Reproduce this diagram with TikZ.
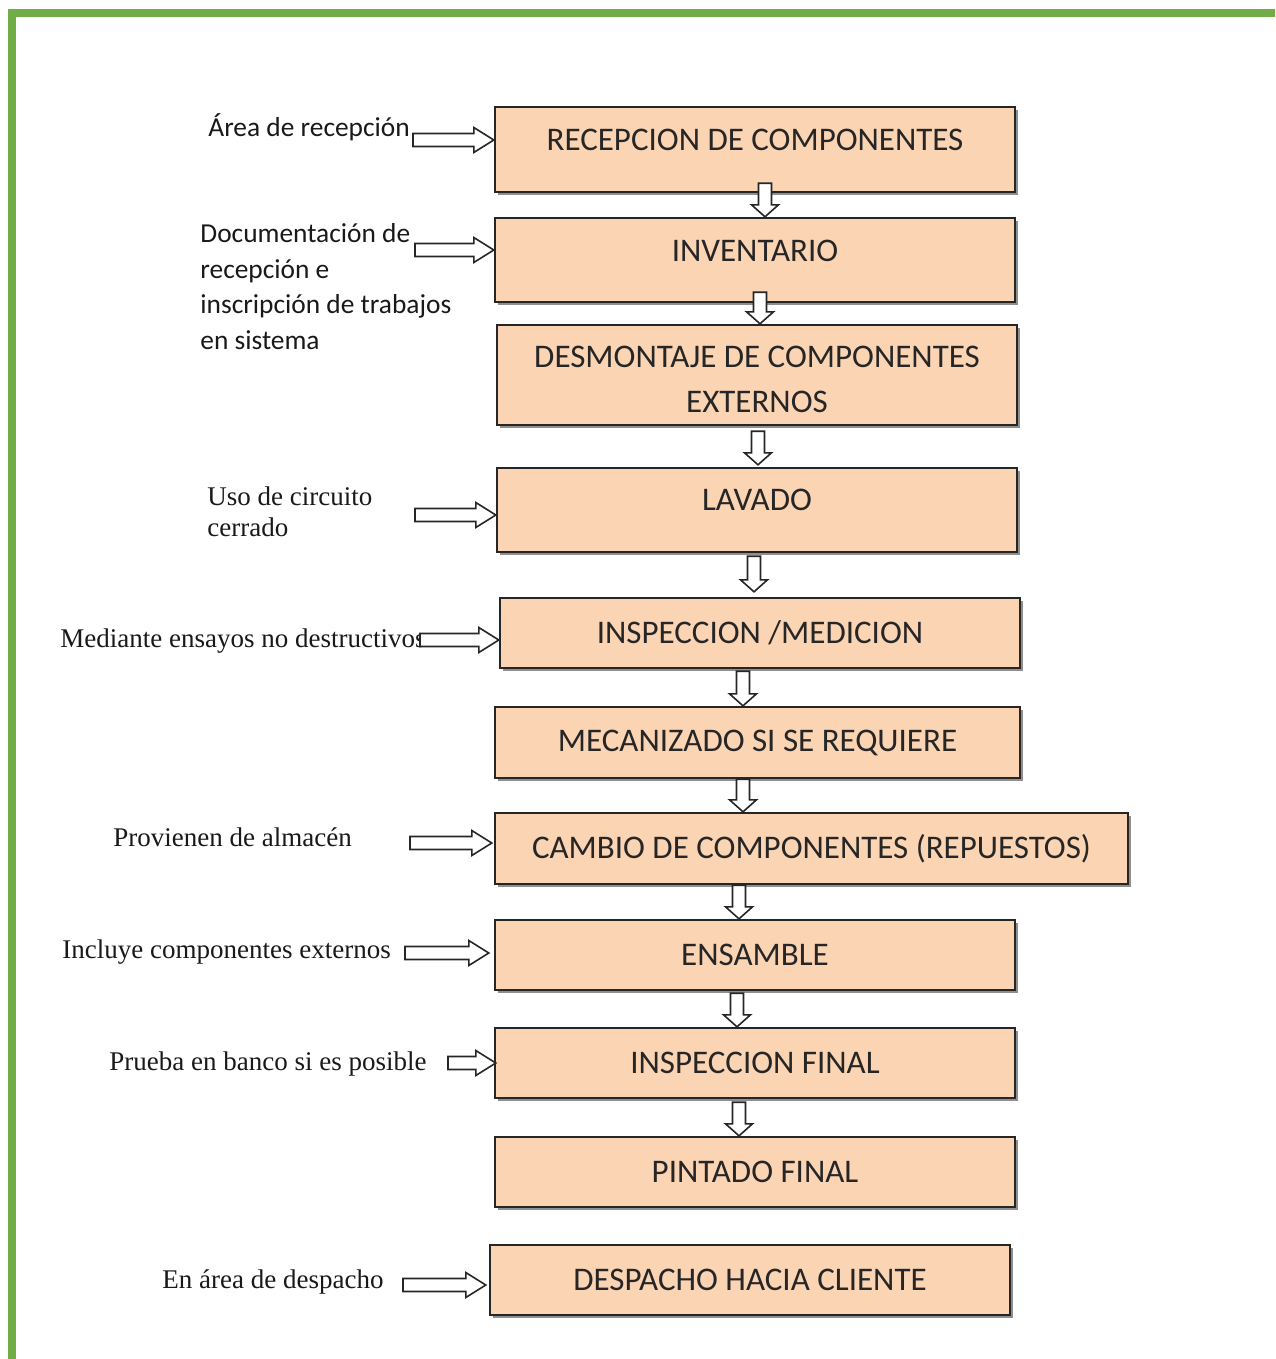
\documentclass[tikz,border=0pt]{standalone}
\usepackage{fontspec}
\setmainfont{Liberation Serif}
\newfontfamily\calfont{Carlito}
\usetikzlibrary{calc,shadows}
\definecolor{peach}{HTML}{FBD4B4}
\definecolor{framegreen}{RGB}{112,173,71}
\begin{document}
\begin{tikzpicture}[x=0.5pt,y=-0.5pt,
  box/.style={draw=black!85, line width=1.2pt, fill=peach, inner sep=0pt,
    font=\calfont\fontsize{16.5}{22.5}\selectfont, text=black!85, align=center,
    drop shadow={shadow xshift=1.3pt, shadow yshift=-1.3pt, fill=black!55, opacity=0.8}},
  slab/.style={anchor=west, inner sep=0pt, align=left, text=black!90,
    font=\fontsize{13.5}{15.5}\selectfont},
  clab/.style={anchor=west, inner sep=0pt, align=left, text=black!90,
    font=\calfont\fontsize{13.7}{17.8}\selectfont},
  dar/.style={draw=black!85, fill=white, line width=0.8pt, line join=miter,
    to path={let \p1=(\tikztostart), \p2=(\tikztotarget) in
      (\x1-3.25pt,\y1) -- (\x1-3.25pt,\y2+6pt) -- (\x1-6.75pt,\y2+6pt) -- (\x1,\y2)
      -- (\x1+6.75pt,\y2+6pt) -- (\x1+3.25pt,\y2+6pt) -- (\x1+3.25pt,\y1) -- cycle}},
  rar/.style={draw=black!85, fill=white, line width=0.8pt, line join=miter,
    to path={let \p1=(\tikztostart), \p2=(\tikztotarget) in
      (\x1,\y1+3.25pt) -- (\x2-10pt,\y1+3.25pt) -- (\x2-10pt,\y1+6.25pt) -- (\x2,\y1)
      -- (\x2-10pt,\y1-6.25pt) -- (\x2-10pt,\y1-3.25pt) -- (\x1,\y1-3.25pt) -- cycle}}]
\useasboundingbox (0,0) rectangle (1275,1359);
\begin{scope}
  \clip (0,0) rectangle (1275,1359);
  \draw[framegreen, line width=4pt] (12,13) rectangle (1300,1363);
\end{scope}

% boxes
\node[box, minimum width=260pt, minimum height=42.5pt, text depth=9.5pt] (b1) at (755,149.5) {RECEPCION DE COMPONENTES};
\node[box, minimum width=260pt, minimum height=42pt, text depth=9pt] (b2) at (755,260) {INVENTARIO};
\node[box, minimum width=260pt, minimum height=50pt] (b3) at (757,375) {\rule{0pt}{15.6pt}DESMONTAJE DE COMPONENTES\\EXTERNOS};
\node[box, minimum width=260pt, minimum height=42pt, text depth=10pt] (b4) at (757,510) {LAVADO};
\node[box, minimum width=260pt, minimum height=35pt] (b5) at (760,633) {INSPECCION /MEDICION};
\node[box, minimum width=262.5pt, minimum height=35.5pt] (b6) at (757.5,742.5) {MECANIZADO SI SE REQUIERE};
\node[box, minimum width=316.5pt, minimum height=35.5pt] (b7) at (811.5,848.5) {CAMBIO DE COMPONENTES (REPUESTOS)};
\node[box, minimum width=260pt, minimum height=35pt] (b8) at (755,955) {ENSAMBLE};
\node[box, minimum width=260pt, minimum height=35pt] (b9) at (755,1063) {INSPECCION FINAL};
\node[box, minimum width=260pt, minimum height=35pt] (b10) at (755,1172) {PINTADO FINAL};
\node[box, minimum width=260pt, minimum height=35pt] (b11) at (750,1280) {DESPACHO HACIA CLIENTE};

% labels
\node[clab] (l1) at (208,127) {Área de recepción};
\node[clab] (l2) at (200,286.5) {Documentación de\\recepción e\\inscripción de trabajos\\en sistema};
\node[slab] (l4) at (207,511.5) {Uso de circuito\\cerrado};
\node[slab] (l5) at (60,641) {Mediante ensayos no destructivos};
\node[slab] (l7) at (113,837) {Provienen de almacén};
\node[slab] (l8) at (62,952) {Incluye componentes externos};
\node[slab] (l9) at (109,1064) {Prueba en banco si es posible};
\node[slab] (l11) at (162,1282) {En área de despacho};

% x positions of the vertical arrows
\coordinate (x1) at (765,0);
\coordinate (x2) at (760,0);
\coordinate (x3) at (758,0);
\coordinate (x4) at (754,0);
\coordinate (x5) at (743,0);
\coordinate (x6) at (743,0);
\coordinate (x7) at (739,0);
\coordinate (x8) at (737,0);
\coordinate (x9) at (739,0);

\draw[dar] ([yshift=5pt]b1.south -| x1) to (b2.north -| x1);
\draw[dar] ([yshift=5.5pt]b2.south -| x2) to (b3.north -| x2);
\draw[dar] ([yshift=-2.5pt]b3.south -| x3) to ([yshift=1pt]b4.north -| x3);
\draw[dar] ([yshift=-1.5pt]b4.south -| x4) to ([yshift=2.5pt]b5.north -| x4);
\draw[dar] ([yshift=-1pt]b5.south -| x5) to (b6.north -| x5);
\draw[dar] (b6.south -| x6) to (b7.north -| x6);
\draw[dar] (b7.south -| x7) to (b8.north -| x7);
\draw[dar] ([yshift=-1pt]b8.south -| x8) to (b9.north -| x8);
\draw[dar] ([yshift=-1.5pt]b9.south -| x9) to (b10.north -| x9);

% side arrows
\coordinate (s1) at (413,140);
\coordinate (s2) at (415,250);
\coordinate (s4) at (415,515);
\coordinate (s5) at (420,640);
\coordinate (s7) at (410,843);
\coordinate (s8) at (405,953);
\coordinate (s9) at (448,1063);
\coordinate (s11) at (403,1285);
\draw[rar] (s1) to (b1.west |- s1);
\draw[rar] (s2) to (b2.west |- s2);
\draw[rar] (s4) to (b4.west |- s4);
\draw[rar] (s5) to (b5.west |- s5);
\draw[rar] (s7) to ([xshift=-1pt]b7.west |- s7);
\draw[rar] (s8) to ([xshift=-2.5pt]b8.west |- s8);
\draw[rar] (s9) to ([xshift=1pt]b9.west |- s9);
\draw[rar] (s11) to ([xshift=-1.5pt]b11.west |- s11);
\end{tikzpicture}
\end{document}
